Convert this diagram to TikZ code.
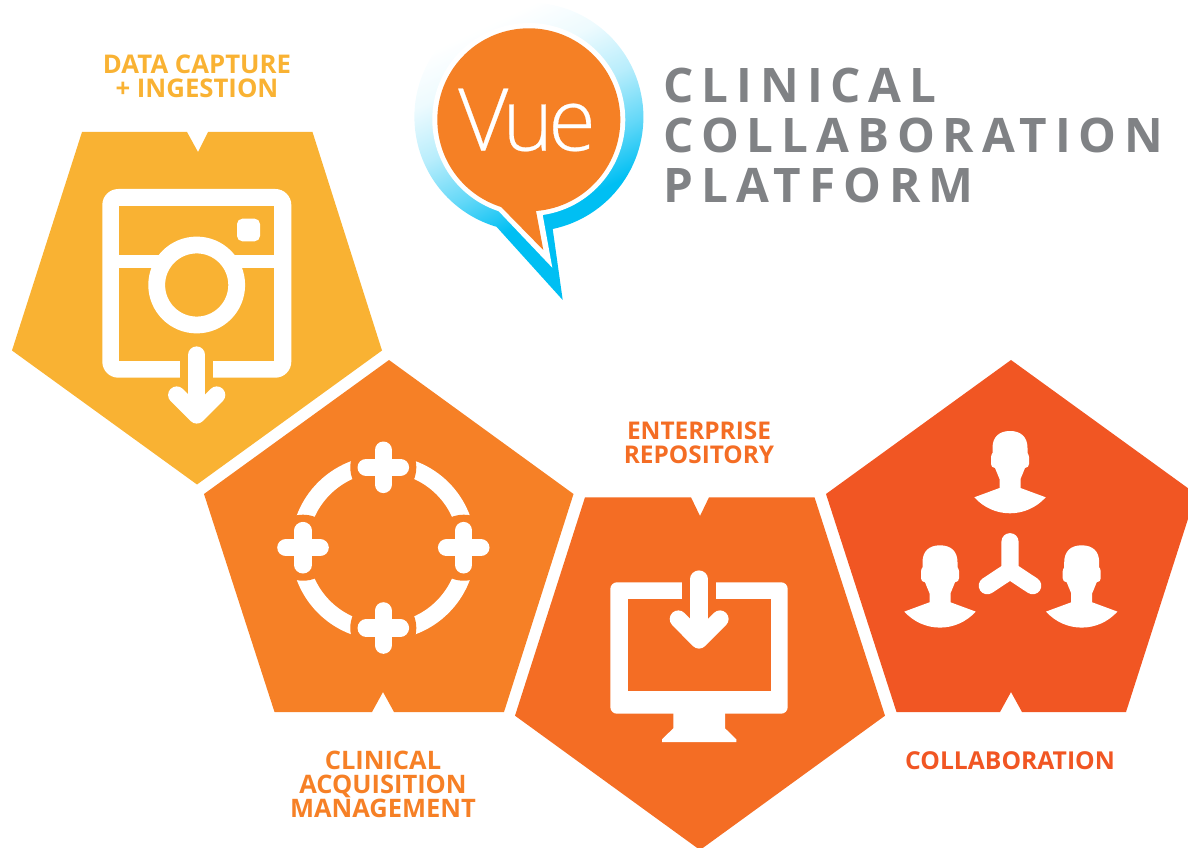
\documentclass[tikz,border=0pt]{standalone}
\usepackage{fontspec}
\setmainfont{Open Sans}
\newfontfamily\vuefont[LetterSpace=-6,FakeBold=0.3]{Open Sans Light}
\definecolor{cyel}{HTML}{F9B233}
\definecolor{cora}{HTML}{F68026}
\definecolor{cent}{HTML}{F46D24}
\definecolor{ccol}{HTML}{F15623}
\definecolor{cgray}{HTML}{808285}
\definecolor{ccy}{HTML}{00BFF3}
\definecolor{cvue}{HTML}{F58025}
\pgfdeclareverticalshading{bubshade}{100bp}{color(0bp)=(ccy);color(38bp)=(ccy);color(46bp)=(ccy!62!white);color(55bp)=(ccy!28!white);color(64bp)=(ccy!7!white);color(72bp)=(white);color(100bp)=(white)}
\tikzset{
 lab/.style={align=center,inner sep=0pt},
 labfont/.style={font=\fontsize{#1}{18}\selectfont\bfseries},
 iconline/.style={draw=white,line width=12.9pt,line cap=round,line join=round},
 person/.pic={\fill[white] (-10.5,57) -- (-35.7,66.3) .. controls (-26,77) and (-13,82.3) .. (0,82.3) .. controls (13,82.3) and (26,77) .. (35.7,66.3) -- (10.5,57) -- (10.5,48) -- (15,37) .. controls (17.5,37) and (19,35) .. (19,33) -- (19,26) .. controls (19,24) and (18,23) .. (17.5,22) -- (17.5,17) .. controls (17.5,6) and (11,0) .. (0,0) .. controls (-11,0) and (-17.5,6) .. (-17.5,17) -- (-17.5,22) .. controls (-18,23) and (-19,24) .. (-19,26) -- (-19,33) .. controls (-19,35) and (-17.5,37) .. (-15,37) -- (-10.5,48) -- cycle;},
 plusmark/.pic={\fill[cora] (0,0) circle[radius=33];
   \draw[iconline] (-17.2,0) -- (17.2,0) (0,-17.2) -- (0,17.2);}
}
\begin{document}
\begin{tikzpicture}[x=0.75pt,y=-0.75pt]
\useasboundingbox (0,0) rectangle (1188,848);
% pentagons
\fill[cyel] (82,132) -- (187,132) -- (198,152) -- (208,132) -- (312.5,132) -- (382,350.5) -- (197,484.5) -- (12,350.5) -- cycle;
\fill[cora] (389,360) -- (573.5,494) -- (504,712) -- (394,712) -- (383,692) -- (372,712) -- (274.5,712) -- (204,494) -- cycle;
\fill[cent] (585,497.3) -- (691,497.3) -- (700,516) -- (709,497.3) -- (814.5,497.3) -- (885,715.7) -- (700,850) -- (515,715.7) -- cycle;
\begin{scope}
\clip (0,0) rectangle (1188,848);
\fill[ccol] (1011,360) -- (1196,494) -- (1126,712) -- (1022,712) -- (1011,692) -- (1000,712) -- (896.5,712) -- (826,494) -- cycle;
\end{scope}
% bubble
\path[shade,shading=bubshade,shading angle=25] (552.7,229) arc[start angle=78,end angle=-253.6,radius=114.5] -- (562.7,300) -- cycle;
\fill[white] (542.7,215) arc[start angle=81.7,end angle=-251.8,radius=96.5] -- (552.3,267.7) -- cycle;
\fill[cvue] (536,211) arc[start angle=85.5,end angle=-252.4,radius=91.5] -- (543.3,250) -- cycle;
\node[text=white,inner sep=0pt,font=\vuefont\fontsize{65}{65}\selectfont] (vue) at (527,120) {Vue};
% title
\node[anchor=west,align=left,inner sep=0pt,text=cgray,font=\fontsize{35.7}{37.5}\selectfont\bfseries\addfontfeature{LetterSpace=16.6}] (title) at (663.5,135.5) {CLINICAL\\COLLABORATION\\PLATFORM};
% labels
\node[lab,labfont=19.3,text=cyel] (lab1) at (197,76.3) {DATA CAPTURE\\+ INGESTION};
\node[lab,labfont=19.1,text=cora] (lab2) at (383,784) {CLINICAL\\ACQUISITION\\MANAGEMENT};
\node[lab,labfont=18.3,text=cent] (lab3) at (699,442.6) {ENTERPRISE\\REPOSITORY};
\node[lab,labfont=18.5,text=ccol] (lab4) at (1010,761) {COLLABORATION};
% camera
\fill[white,rounded corners=12] (102.3,189) rectangle (291.3,377.7);
\fill[cyel] (119.3,206) rectangle (274.3,360.7);
\fill[cyel] (180,355) rectangle (213.3,380);
\fill[white] (119,255) rectangle (275,267.7);
\fill[white,rounded corners=4] (237,218.7) rectangle (260,241.3);
\fill[cyel] (196.7,285) circle[radius=40];
\draw[white,line width=12.6pt] (196.7,285) circle[radius=40];
\draw[iconline] (196.7,355) -- (196.7,412);
\draw[iconline] (176.7,395) -- (196.7,415) -- (216.7,395);
% crosshair
\draw[white,line width=12.8pt] (383.3,547.7) circle[radius=83.8];
\pic at (383.3,467.3) {plusmark};
\pic at (303,547.7) {plusmark};
\pic at (463.7,547.7) {plusmark};
\pic at (383.3,628) {plusmark};
% monitor
\fill[white,rounded corners=5] (610.3,582.3) rectangle (787.7,713.7);
\fill[cent] (627.7,599.3) rectangle (770.7,690.7);
\fill[cent] (682,580) rectangle (716,600);
\fill[white] (673.3,713) -- (673.3,728.3) -- (662,739.3) -- (662,742) -- (736.3,742) -- (736.3,739.3) -- (725,728.3) -- (725,713) -- cycle;
\draw[iconline] (699,579) -- (699,637);
\draw[iconline] (678.3,619) -- (699,640) -- (720,619);
% people
\pic at (1010,431) {person};
\pic at (940,545.3) {person};
\pic at (1081.7,545.3) {person};
\draw[iconline] (1010,541.7) -- (1010,570.7) (987.3,585.7) -- (1010,570.7) -- (1032.7,585.7);
\end{tikzpicture}
\end{document}
